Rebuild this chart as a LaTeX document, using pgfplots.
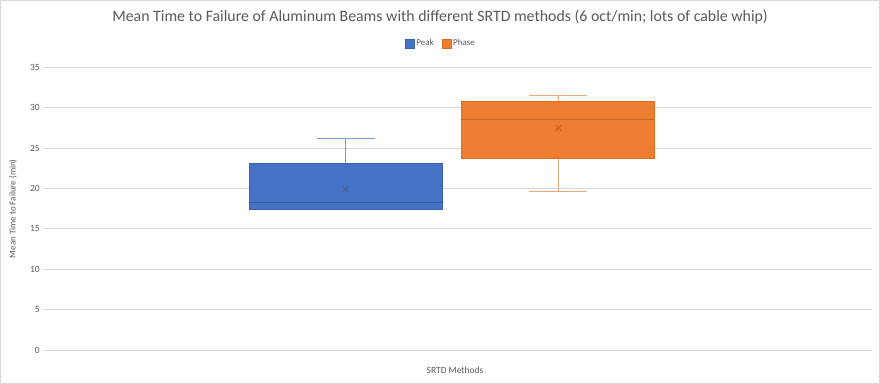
\documentclass[border=0pt]{standalone}
\usepackage{fontspec}
\setmainfont{Carlito}
\usepackage{pgfplots}
\pgfplotsset{compat=1.18}
\definecolor{peakfill}{HTML}{4472C4}
\definecolor{peakdraw}{HTML}{3A64B0}
\definecolor{peakmed}{HTML}{3159A3}
\definecolor{peakwhisk}{HTML}{7F98CC}
\definecolor{peakmean}{HTML}{4A5F96}
\definecolor{phasefill}{HTML}{ED7D31}
\definecolor{phasedraw}{HTML}{D86E28}
\definecolor{phasemed}{HTML}{C9661F}
\definecolor{phasewhisk}{HTML}{E8A97C}
\definecolor{phasemean}{HTML}{C0601F}
\definecolor{gridgray}{HTML}{D9D9D9}
\definecolor{textgray}{HTML}{595959}
\definecolor{framegray}{HTML}{D9D9D9}
\begin{document}
\begin{tikzpicture}
\draw[framegray, line width=0.75bp] (0.5bp,0.5bp) rectangle (879.5bp,383.5bp);
\begin{axis}[
  at={(43.3bp,34bp)}, anchor=south west,
  scale only axis, width=828.4bp, height=282.5bp,
  xmin=-0.424, xmax=3.476, ymin=0, ymax=35,
  ytick={0,5,...,35}, xtick=\empty,
  ymajorgrids, grid style={draw=gridgray, line width=0.75bp},
  axis line style={draw=none},
  major tick length=0pt,
  tick label style={font=\fontsize{9.5}{11}\selectfont, text=textgray},
  /pgf/number format/assume math mode=true,
  title={Mean Time to Failure of Aluminum Beams with different SRTD methods (6 oct/min; lots of cable whip)},
  every axis title/.style={at={(axis description cs:0.479,1.179)}, anchor=center, font=\fontsize{15.9}{18}\selectfont, text=textgray},
  ylabel={Mean Time to Failure (min)},
  every axis y label/.style={at={(axis description cs:-0.0366,0.5)}, rotate=90, anchor=center, font=\fontsize{9}{11}\selectfont, text=textgray},
  xlabel={SRTD Methods},
  every axis x label/.style={at={(axis description cs:0.497,-0.0708)}, anchor=center, font=\fontsize{9.5}{11}\selectfont, text=textgray},
  legend style={at={(axis description cs:0.48,1.085)}, anchor=center, draw=none, fill=none,
    legend columns=2, font=\fontsize{9}{11}\selectfont, text=textgray,
    /tikz/every even column/.append style={column sep=6bp}},
  legend cell align=left,
  legend image code/.code={\draw[#1] (0bp,-4.5bp) rectangle (9bp,4.5bp);},
]
\addlegendimage{fill=peakfill, draw=peakdraw}
\addlegendentry{Peak}
\addlegendimage{fill=phasefill, draw=phasedraw}
\addlegendentry{Phase}

% ---- Peak (draw position 1) ----
\addplot[peakwhisk, line width=1bp, forget plot] coordinates {(1,23.17) (1,26.2)};
\addplot[peakwhisk, line width=1bp, forget plot] coordinates {(0.864,26.2) (1.136,26.2)};
\addplot[peakwhisk, line width=1bp, forget plot] coordinates {(1,17.45) (1,17.35)};
\addplot[peakwhisk, line width=1bp, forget plot] coordinates {(0.864,17.35) (1.136,17.35)};
\addplot[fill=peakfill, draw=peakdraw, line width=0.75bp, line join=miter, forget plot]
  coordinates {(0.5465,17.45) (1.4535,17.45) (1.4535,23.17) (0.5465,23.17)} -- cycle;
\addplot[peakmed, line width=1bp, forget plot] coordinates {(0.5465,18.3) (1.4535,18.3)};
\addplot[draw=none, mark=x, mark size=3.6bp, mark options={draw=peakmean, line width=1bp, solid}, forget plot]
  coordinates {(1,19.9)};

% ---- Phase (draw position 2) ----
\addplot[phasewhisk, line width=1bp, forget plot] coordinates {(2,30.8) (2,31.5)};
\addplot[phasewhisk, line width=1bp, forget plot] coordinates {(1.864,31.5) (2.136,31.5)};
\addplot[phasewhisk, line width=1bp, forget plot] coordinates {(2,23.7) (2,19.67)};
\addplot[phasewhisk, line width=1bp, forget plot] coordinates {(1.864,19.67) (2.136,19.67)};
\addplot[fill=phasefill, draw=phasedraw, line width=0.75bp, line join=miter, forget plot]
  coordinates {(1.5465,23.7) (2.4535,23.7) (2.4535,30.8) (1.5465,30.8)} -- cycle;
\addplot[phasemed, line width=1bp, forget plot] coordinates {(1.5465,28.5) (2.4535,28.5)};
\addplot[draw=none, mark=x, mark size=3.6bp, mark options={draw=phasemean, line width=1bp, solid}, forget plot]
  coordinates {(2,27.5)};
\end{axis}
\end{tikzpicture}
\end{document}
